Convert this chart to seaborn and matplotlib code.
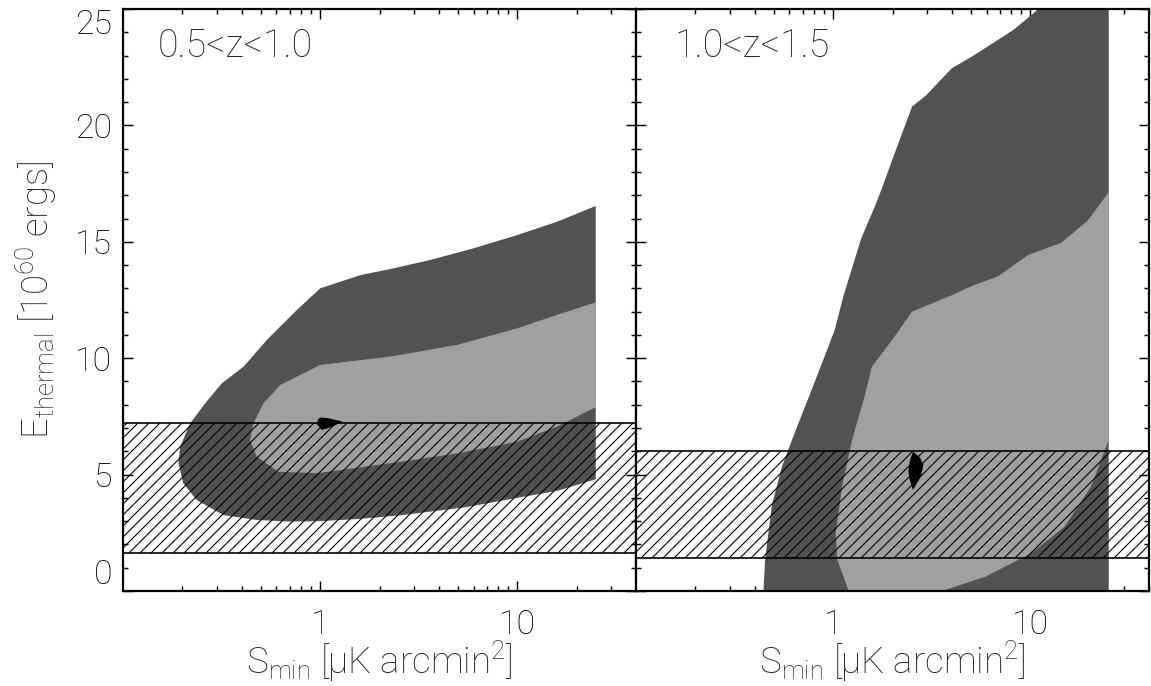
import matplotlib
matplotlib.use("Agg")
import matplotlib.pyplot as plt
import matplotlib.ticker as mticker
import seaborn as sns

# ---------------------------------------------------------------------------
# Confidence regions in the (S_min, E_thermal) plane, two redshift bins.
# Each region is a closed boundary given as (S_min [uK arcmin^2], E [1e60 erg]).
# ---------------------------------------------------------------------------

# 0.5 < z < 1.0 : outer (dark) region
z1_outer_S = [0.191, 0.195, 0.219, 0.261, 0.317, 0.408, 0.536, 0.762, 1.0, 1.6,
              2.27, 3.62, 6.0, 10.0, 15.9, 25.0,
              25.0, 15.9, 10.0, 5.5, 2.55, 1.6, 1.0, 0.70, 0.477, 0.323, 0.236, 0.202]
z1_outer_E = [5.5, 6.2, 7.2, 8.06, 8.92, 9.63, 10.78, 12.07, 13.0, 13.57,
              13.83, 14.22, 14.72, 15.29, 15.86, 16.54,
              4.8, 4.3, 4.0, 3.6, 3.25, 3.1, 3.0, 2.98, 3.05, 3.26, 3.91, 4.63]

# 0.5 < z < 1.0 : inner (light) region
z1_inner_S = [0.441, 0.459, 0.515, 0.627, 1.0, 2.27, 4.94, 9.96, 15.9, 25.0,
              25.0, 15.9, 9.96, 4.94, 2.27, 0.962, 0.614, 0.477]
z1_inner_E = [6.49, 7.2, 8.06, 8.85, 9.71, 10.07, 10.57, 11.28, 11.86, 12.4,
              7.9, 7.06, 6.41, 5.91, 5.49, 5.06, 5.12, 5.77]

# 0.5 < z < 1.0 : best-fit (black) region
z1_best_S = [0.965, 0.975, 1.0, 1.1, 1.3, 1.12, 1.02]
z1_best_E = [7.15, 7.38, 7.45, 7.42, 7.28, 7.02, 6.92]

# 1.0 < z < 1.5 : outer (dark) region
z2_outer_S = [0.443, 0.452, 0.489, 0.549, 0.628, 0.748, 0.890, 1.02, 1.13, 1.39,
              1.62, 1.75, 1.99, 2.51, 2.97, 3.99, 5.04, 6.37, 8.2, 10.6, 11.0,
              25.0, 25.0]
z2_outer_E = [0.0, 1.39, 3.69, 5.33, 6.64, 8.28, 9.92, 11.23, 12.7, 15.16,
              16.48, 17.2, 18.5, 20.8, 21.3, 22.45, 22.95, 23.5, 24.1, 24.88, 25.0,
              25.0, 0.0]

# 1.0 < z < 1.5 : inner (light) region
z2_inner_S = [1.2, 1.05, 1.03, 1.11, 1.247, 1.458, 1.57, 1.99, 2.51, 3.99, 5.04,
              6.87, 9.73, 14.3, 19.5, 25.0,
              25.0, 20.3, 14.9, 10.1, 5.89, 3.55]
z2_inner_E = [0.0, 1.33, 2.48, 4.48, 6.49, 8.49, 9.63, 10.78, 12.0, 12.7, 13.1,
              13.52, 14.43, 14.95, 15.9, 17.13,
              6.5, 4.48, 2.76, 1.62, 0.61, 0.0]

# 1.0 < z < 1.5 : best-fit (black) region
z2_best_S = [2.54, 2.75, 2.87, 2.78, 2.54, 2.44, 2.41, 2.45]
z2_best_E = [5.98, 5.75, 5.41, 4.9, 4.34, 4.8, 5.12, 5.6]

# Hatched bands: allowed E_thermal range in each bin [low, high]
z1_band = [1.65, 7.2]
z2_band = [1.4, 6.0]

panel_labels = ["0.5<z<1.0", "1.0<z<1.5"]

# Axis ranges and ticks
S_LIM = [0.1, 40.0]
E_LIM = [0.0, 25.0]
S_TICKS = [1, 10]
S_TICKLABELS = ["1", "10"]
E_TICKS = [0, 5, 10, 15, 20, 25]

DARK = "#525252"
LIGHT = "#a0a0a0"

# ---------------------------------------------------------------------------
DPI = 132
sns.set_theme(style="ticks")
plt.rcParams.update({
    "font.family": ["Roboto", "DejaVu Sans"],
    "font.weight": "light",
    "mathtext.fontset": "custom",
    "mathtext.rm": "Roboto:light",
    "mathtext.it": "Roboto:italic:light",
    "mathtext.default": "regular",
    "hatch.linewidth": 0.6,
    "axes.linewidth": 1.2,
    "axes.edgecolor": "black",
    "xtick.color": "black",
    "ytick.color": "black",
    "axes.facecolor": "white",
    "figure.facecolor": "white",
})

fig = plt.figure(figsize=(1151 / DPI, 686 / DPI), dpi=DPI)
left, right, bottom, top = 123 / 1151, 1149 / 1151, 1 - 591 / 686, 1 - 9 / 686
w = (right - left) / 2
ax1 = fig.add_axes([left, bottom, w, top - bottom])
ax2 = fig.add_axes([left + w, bottom, w, top - bottom], sharey=ax1)

panels = [
    (ax1, z1_outer_S, z1_outer_E, z1_inner_S, z1_inner_E, z1_best_S, z1_best_E, z1_band, panel_labels[0], 0.068),
    (ax2, z2_outer_S, z2_outer_E, z2_inner_S, z2_inner_E, z2_best_S, z2_best_E, z2_band, panel_labels[1], 0.076),
]

xlabel = r"S$_{\rm min}$ [$\mu$K arcmin$^{2}$]"
ylabel = r"E$_{\rm thermal}$ [10$^{60}$ ergs]"

for (ax, oS, oE, iS, iE, bS, bE, band, lab, lx) in panels:
    ax.set_xscale("log")
    ax.fill(oS, oE, color=DARK, lw=0, zorder=1)
    ax.fill(iS, iE, color=LIGHT, lw=0, zorder=1.1)
    ax.fill(bS, bE, color="black", lw=0, zorder=1.2)

    # hatched band of allowed energies
    ax.axhspan(band[0], band[1], facecolor="none", edgecolor="black",
               hatch="////", linewidth=0, zorder=2)
    for e in band:
        sns.lineplot(x=S_LIM, y=[e, e], color="black", linewidth=0.9,
                     ax=ax, zorder=3)

    ax.set_xlim(S_LIM)
    ax.set_ylim(E_LIM)
    ax.set_xticks(S_TICKS)
    ax.set_xticklabels(S_TICKLABELS)
    ax.xaxis.set_minor_locator(mticker.LogLocator(base=10, subs=range(2, 10), numticks=20))
    ax.xaxis.set_minor_formatter(mticker.NullFormatter())
    ax.set_yticks(E_TICKS)
    ax.yaxis.set_minor_locator(mticker.MultipleLocator(1))
    ax.tick_params(which="both", direction="in", top=True, right=True,
                   width=0.8, labelsize=18.5)
    ax.tick_params(which="major", length=5.5)
    ax.tick_params(which="minor", length=2.8)
    ax.tick_params(axis="x", which="major", pad=10)
    ax.tick_params(axis="y", which="major", pad=6)

    ax.text(lx, 0.936, lab, transform=ax.transAxes, ha="left", va="center",
            fontsize=20.5, fontweight="light")

    ax.set_xlabel(xlabel, fontsize=20, va="bottom", fontweight="light")
    ax.xaxis.set_label_coords(0.5, -0.16)
    for sp in ax.spines.values():
        sp.set_visible(True)
        sp.set_zorder(5)

ax1.set_ylabel(ylabel, fontsize=20, fontweight="light")
ax1.yaxis.set_label_coords(-0.125, 0.5)
ax2.tick_params(axis="y", labelleft=False)

# keep the end labels of the energy axis inside the frame
yticks = ax1.yaxis.get_major_ticks()
yticks[0].label1.set_verticalalignment("bottom")
yticks[-1].label1.set_verticalalignment("top")

fig.savefig("out.png", dpi=DPI)
